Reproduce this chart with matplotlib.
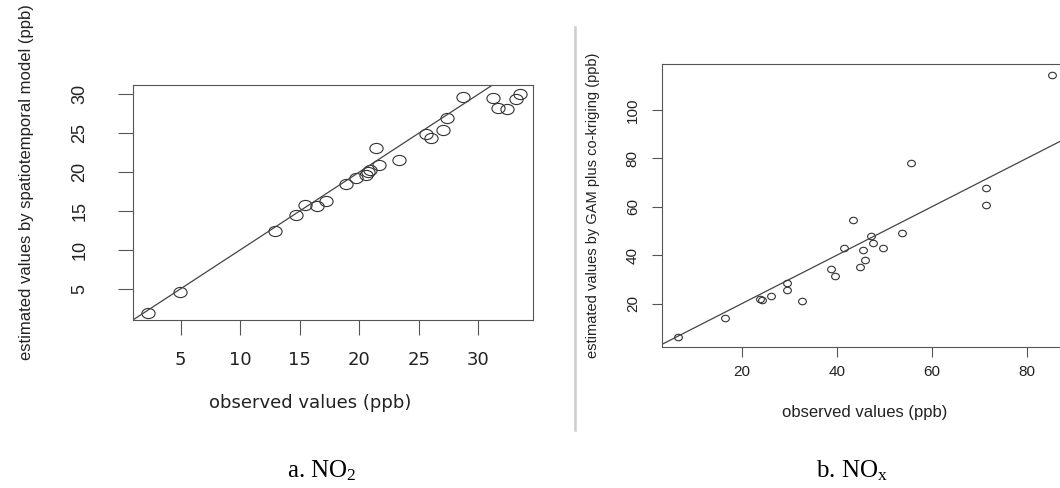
import numpy as np
import matplotlib
matplotlib.use("Agg")
import matplotlib.pyplot as plt
from matplotlib.path import Path

# a. NO2: observed vs. estimated by spatiotemporal model (ppb)
NO2_OBS = [2.24, 4.9, 12.93, 14.7, 15.45, 16.43, 17.17, 18.85, 19.75, 20.6,
           20.7, 20.9, 21.7, 21.44, 23.35, 25.6, 26.05, 27.0, 27.4, 28.75,
           31.27, 31.7, 32.4, 33.2, 33.47]
NO2_EST = [1.94, 4.6, 12.43, 14.45, 15.77, 15.6, 16.33, 18.43, 19.2, 19.6,
           20.0, 20.3, 20.96, 23.15, 21.5, 24.95, 24.35, 25.45, 26.9, 29.66,
           29.53, 28.2, 28.1, 29.36, 30.04]
NO2_TICKS = [5, 10, 15, 20, 25, 30]

# b. NOx: observed vs. estimated by GAM plus co-kriging (ppb)
NOX_OBS = [6.53, 16.5, 23.85, 24.3, 26.1, 29.4, 29.6, 32.6, 38.7, 39.6,
           41.5, 43.4, 44.8, 45.6, 45.96, 47.2, 47.5, 49.7, 53.7, 55.6,
           71.4, 71.4, 85.3]
NOX_EST = [6.17, 14.2, 21.9, 21.65, 23.0, 28.4, 25.6, 20.95, 34.3, 31.2,
           42.8, 54.5, 35.0, 42.2, 38.2, 48.0, 45.1, 42.8, 49.1, 78.2,
           67.7, 60.7, 114.4]
NOX_XTICKS = [20, 40, 60, 80]
NOX_YTICKS = [20, 40, 60, 80, 100]

W, H = 1060, 488
INK = "#333333"
BOX = "#555555"


def px(x0, y0, x1, y1):
    """pixel box (top-left origin) -> figure fraction rect"""
    return [x0 / W, 1 - y1 / H, (x1 - x0) / W, (y1 - y0) / H]


def ellipse(stretch):
    c = Path.unit_circle()
    return Path(c.vertices * [stretch, 1.0], c.codes)


def style_axes(ax, tick_len, xpad, ypad, xsize, ysize, xfont, yfont):
    for s in ax.spines.values():
        s.set_color(BOX)
        s.set_linewidth(0.8)
    ax.tick_params(direction="out", length=tick_len, width=0.8, color=BOX,
                   labelcolor="#222222")
    ax.tick_params(axis="x", pad=xpad, labelsize=xsize)
    ax.tick_params(axis="y", pad=ypad, labelsize=ysize)
    for t in ax.get_xticklabels():
        t.set_family(xfont)
    for t in ax.get_yticklabels():
        t.set_family(yfont)
        t.set_rotation(90)
        t.set_verticalalignment("center")


fig = plt.figure(figsize=(W / 100, H / 100), dpi=100)
fig.patch.set_facecolor("white")

# left panel
ax1 = fig.add_axes(px(133, 85, 533, 320))
ax1.plot(NO2_OBS, NO2_EST, linestyle="none", marker=ellipse(1.3), markersize=9.5,
         markerfacecolor="none", markeredgecolor=INK, markeredgewidth=0.8)
ax1.axline((0, 0), slope=1, color="#444444", lw=0.9)
ax1.set_xlim(0.99, 34.6)
ax1.set_ylim(0.98, 31.2)
ax1.set_xticks(NO2_TICKS)
ax1.set_yticks(NO2_TICKS)
style_axes(ax1, 11, 11, 21, 13, 13, "DejaVu Sans", "Liberation Sans")

# right panel (box runs past the right edge of the picture)
ax2 = fig.add_axes(px(662, 64, 1074, 347))
ax2.plot(NOX_OBS, NOX_EST, linestyle="none", marker=ellipse(1.2), markersize=5.6,
         markerfacecolor="none", markeredgecolor=INK, markeredgewidth=0.8)
ax2.axline((0, 0), slope=1, color="#444444", lw=0.9)
ax2.set_xlim(3.2, 89.9)
ax2.set_ylim(2.1, 118.9)
ax2.set_xticks(NOX_XTICKS)
ax2.set_yticks(NOX_YTICKS)
style_axes(ax2, 7, 6, 9, 11, 11, "Liberation Sans", "Liberation Sans")

# axis titles
fig.text(310 / W, 1 - 403 / H, "observed values (ppb)", ha="center", va="center",
         fontsize=13, family="DejaVu Sans", color="#222222")
fig.text(27 / W, 1 - 182 / H, "estimated values by spatiotemporal model (ppb)",
         ha="center", va="center", rotation=90, fontsize=12,
         family="Liberation Sans", color="#222222")
fig.text(865 / W, 1 - 412 / H, "observed values (ppb)", ha="center", va="center",
         fontsize=12, family="Liberation Sans", color="#222222")
fig.text(593 / W, 1 - 205 / H, "estimated values by GAM plus co-kriging (ppb)",
         ha="center", va="center", rotation=90, fontsize=10.5,
         family="Liberation Sans", color="#222222")

# separator between the two panels
fig.add_artist(plt.Line2D([575 / W, 575 / W], [1 - 27 / H, 1 - 430 / H],
                          color="#cccccc", lw=1.8, transform=fig.transFigure))

# captions
fig.text(322 / W, 1 - 477 / H, r"a. NO$\mathregular{_2}$", ha="center",
         va="baseline", fontsize=18, family="Liberation Serif", color="black")
fig.text(852 / W, 1 - 477 / H, r"b. NO$\mathregular{_x}$", ha="center",
         va="baseline", fontsize=18, family="Liberation Serif", color="black")

fig.savefig("out.png", dpi=100)
